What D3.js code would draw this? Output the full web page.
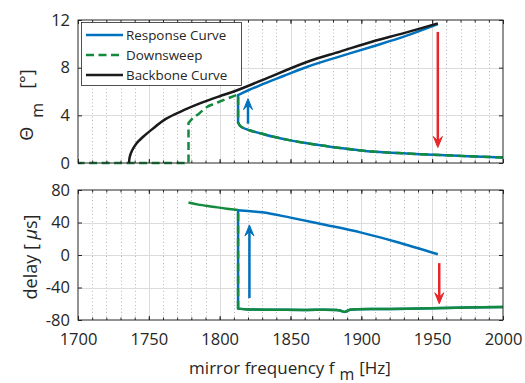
<!DOCTYPE html>
<html>
<head>
<meta charset="utf-8">
<script src="https://cdn.jsdelivr.net/npm/d3@7"></script>
<style>
  body { margin: 0; background: #fff; }
  svg { display: block; font-family: 'Open Sans', sans-serif; }
</style>
</head>
<body>
<main></main>
<script>
// amplitude Theta_m [deg] vs mirror frequency [Hz]
const respLowerTheta = [[1813, 3.4], [1815, 3.05], [1821, 2.75], [1830, 2.45], [1838, 2.2], [1850, 1.9], [1862, 1.65],
  [1875, 1.42], [1885, 1.25], [1900, 1.05], [1910, 0.94], [1932, 0.8], [1955, 0.67], [1975, 0.57], [2000, 0.47]];
const respUpperTheta = [[1813, 5.7], [1828, 6.5], [1845, 7.3], [1862, 8.08], [1885, 8.95], [1908, 9.78], [1930, 10.6], [1954, 11.65]];
const downUpperTheta = [[1813, 5.75], [1803, 5.3], [1797, 5.0], [1791, 4.7], [1786, 4.2], [1781, 3.75], [1778, 3.35]];
const downZeroTheta = [[1778, 0], [1700, 0]];
const backboneTheta = [[1736, 0], [1736.5, 0.5], [1738, 1.0], [1741, 1.6], [1746, 2.2], [1752, 2.8], [1762, 3.7], [1775, 4.45],
  [1786, 5.0], [1800, 5.6], [1810, 6.0], [1830, 6.95], [1862, 8.5], [1885, 9.35], [1908, 10.2], [1930, 10.9], [1954, 11.72]];

// delay [us] vs mirror frequency [Hz]
const respLowerDelay = [[1813, -66], [1820, -67], [1840, -67.3], [1860, -67.6], [1884, -68], [1888, -70], [1892, -67.5],
  [1920, -66.5], [1950, -65.5], [1975, -64.5], [2000, -64]];
const respUpperDelay = [[1813, 55], [1830, 52.5], [1850, 46], [1875, 37], [1900, 27.5], [1925, 16], [1954, 1]];
const downUpperDelay = [[1778, 64.5], [1785, 62], [1795, 59.5], [1805, 57], [1813, 55.5]];

// annotation arrows: frequency, from, to
const arrowsTheta = [{ f: 1820, from: 3.3, to: 5.4, color: '#0072bd' }, { f: 1954, from: 11.0, to: 1.3, color: '#e8262a' }];
const arrowsDelay = [{ f: 1821, from: -53, to: 37, color: '#0072bd' }, { f: 1955, from: -10, to: -60, color: '#e8262a' }];

const xTicks = [1700, 1750, 1800, 1850, 1900, 1950, 2000];
const thetaTicks = [0, 4, 8, 12];
const delayTicks = [-80, -40, 0, 40, 80];
const legendItems = [
  { label: 'Response Curve', color: '#0072bd', dash: null },
  { label: 'Downsweep', color: '#138a3d', dash: '8,4.5' },
  { label: 'Backbone Curve', color: '#1a1a1a', dash: null }
];

const width = 525;
const height = 383;
const blue = '#0072bd';
const green = '#138a3d';
const axisColor = '#262626';

const svg = d3.select('main')
  .append('svg')
  .attr('width', width)
  .attr('height', height)

const x = d3.scaleLinear().domain([1700, 2000]).range([78, 503]);
const yTop = d3.scaleLinear().domain([0, 12]).range([163, 20]);
const yBot = d3.scaleLinear().domain([-80, 80]).range([320, 190]);
const minorX = d3.range(1700, 2001, 10);

function panel(y, yTicks) {
  const g = svg.append('g');
  const [y0, y1] = y.range();

  // minor dotted grid
  g.append('g').selectAll('line')
    .data(minorX.filter(v => v % 50 !== 0))
    .enter().append('line')
    .attr('x1', d => Math.round(x(d)) + 0.5).attr('x2', d => Math.round(x(d)) + 0.5)
    .attr('y1', y0).attr('y2', y1)
    .style('stroke', '#b8b8b8')
    .style('stroke-width', 1)
    .style('stroke-dasharray', '1,2.5')

  // major grid
  g.append('g').selectAll('line')
    .data(xTicks.slice(1, -1))
    .enter().append('line')
    .attr('x1', d => Math.round(x(d)) + 0.5).attr('x2', d => Math.round(x(d)) + 0.5)
    .attr('y1', y0).attr('y2', y1)
    .style('stroke', '#dcdcdc')
  g.append('g').selectAll('line')
    .data(yTicks.slice(1, -1))
    .enter().append('line')
    .attr('x1', x.range()[0]).attr('x2', x.range()[1])
    .attr('y1', d => Math.round(y(d)) + 0.5).attr('y2', d => Math.round(y(d)) + 0.5)
    .style('stroke', '#dcdcdc')
  return g;
}

function frame(y, yTicks, showXLabels) {
  const g = svg.append('g');
  const [y0, y1] = y.range();
  const [xa, xb] = x.range();

  g.append('g').attr('transform', `translate(${xa},0)`)
    .call(d3.axisLeft(y).tickValues(yTicks).tickSize(-4).tickPadding(8).tickFormat(d => d < 0 ? '-' + Math.abs(d) : d));
  g.append('g').attr('transform', `translate(${xb},0)`)
    .call(d3.axisRight(y).tickValues(yTicks).tickSize(-4).tickFormat(''));
  const bottom = g.append('g').attr('transform', `translate(0,${y0})`)
    .call(d3.axisBottom(x).tickValues(xTicks).tickSize(-4).tickPadding(13).tickFormat(d3.format('d')));
  g.append('g').attr('transform', `translate(0,${y1})`)
    .call(d3.axisTop(x).tickValues(xTicks).tickSize(-4).tickFormat(''));
  g.append('g').attr('transform', `translate(0,${y0})`)
    .call(d3.axisBottom(x).tickValues(minorX).tickSize(-2.5).tickFormat(''));
  g.append('g').attr('transform', `translate(0,${y1})`)
    .call(d3.axisTop(x).tickValues(minorX).tickSize(-2.5).tickFormat(''));

  g.selectAll('.domain').remove();
  g.selectAll('.tick line').style('stroke', axisColor);
  g.selectAll('text')
    .style('font-family', "'Open Sans', sans-serif")
    .style('font-size', '16.5px')
    .style('fill', axisColor)
  if (!showXLabels) bottom.selectAll('text').remove();

  g.append('rect')
    .attr('x', xa).attr('y', y1)
    .attr('width', xb - xa).attr('height', y0 - y1)
    .style('fill', 'none')
    .style('stroke', axisColor)
    .style('stroke-width', 1)
}

// smooth branches joined by straight jumps into one continuous path
function joined(y, ...branches) {
  const smooth = d3.line().x(d => x(d[0])).y(d => y(d[1])).curve(d3.curveCatmullRom.alpha(0.5));
  return branches.map((b, i) => {
    const d = b.length > 2 ? smooth(b) : d3.line().x(p => x(p[0])).y(p => y(p[1]))(b);
    return i === 0 ? d : 'L' + d.slice(1);
  }).join('');
}

function drawArrows(y, arrows) {
  arrows.forEach(a => {
    const x0 = x(a.f);
    const ya = y(a.from);
    const yb = y(a.to);
    const dir = Math.sign(yb - ya);
    const headLen = 11;
    const headW = 4.5;
    svg.append('line')
      .attr('x1', x0).attr('x2', x0)
      .attr('y1', ya).attr('y2', yb - dir * headLen * 0.6)
      .style('stroke', a.color)
      .style('stroke-width', 2.5)
    svg.append('path')
      .attr('d', `M${x0},${yb} L${x0 - headW},${yb - dir * headLen} L${x0},${yb - dir * headLen * 0.6} L${x0 + headW},${yb - dir * headLen} Z`)
      .style('fill', a.color)
      .style('stroke', a.color)
      .style('stroke-width', 1)
      .style('stroke-linejoin', 'miter')
  });
}

const reversed = arr => arr.slice().reverse();

// Top panel
panel(yTop, thetaTicks);
const topG = svg.append('g');
topG.append('path')
  .attr('d', joined(yTop, reversed(respLowerTheta), respUpperTheta))
  .style('fill', 'none').style('stroke', blue).style('stroke-width', 2.5)
topG.append('path')
  .attr('d', joined(yTop, reversed(respLowerTheta), downUpperTheta, downZeroTheta))
  .style('fill', 'none').style('stroke', green).style('stroke-width', 2.5)
  .style('stroke-dasharray', '8,4.5')
topG.append('path')
  .attr('d', joined(yTop, backboneTheta))
  .style('fill', 'none').style('stroke', '#1a1a1a').style('stroke-width', 2.5)
drawArrows(yTop, arrowsTheta);
frame(yTop, thetaTicks, false);

// Bottom panel
panel(yBot, delayTicks);
const botG = svg.append('g');
botG.append('path')
  .attr('d', joined(yBot, reversed(respLowerDelay), respUpperDelay))
  .style('fill', 'none').style('stroke', blue).style('stroke-width', 2.5)
botG.append('path')
  .attr('d', joined(yBot, [respLowerDelay[0], downUpperDelay[downUpperDelay.length - 1]]))
  .style('fill', 'none').style('stroke', green).style('stroke-width', 2.5)
  .style('stroke-dasharray', '8,4.5')
botG.append('path')
  .attr('d', joined(yBot, respLowerDelay))
  .style('fill', 'none').style('stroke', green).style('stroke-width', 2.5)
botG.append('path')
  .attr('d', joined(yBot, downUpperDelay))
  .style('fill', 'none').style('stroke', green).style('stroke-width', 2.5)
drawArrows(yBot, arrowsDelay);
frame(yBot, delayTicks, true);

// Legend
const legend = svg.append('g').attr('id', 'legend');
legend.append('rect')
  .attr('x', 81.5).attr('y', 22.5)
  .attr('width', 160).attr('height', 63)
  .style('fill', '#fff')
  .style('stroke', axisColor)
  .style('stroke-width', 0.8)
const items = legend.selectAll('g.item')
  .data(legendItems)
  .enter().append('g')
  .attr('transform', (d, i) => `translate(0,${35 + i * 20})`)
items.append('line')
  .attr('x1', 86).attr('x2', 123)
  .style('stroke', d => d.color)
  .style('stroke-width', 2.5)
  .style('stroke-dasharray', d => d.dash)
items.append('text')
  .attr('x', 126).attr('y', 5)
  .text(d => d.label)
  .style('font-size', '13.4px')
  .style('fill', axisColor)

// Axis labels
const yl1 = svg.append('text')
  .attr('transform', 'translate(33,105) rotate(-90)')
  .attr('text-anchor', 'middle')
  .style('font-size', '18px')
  .style('fill', axisColor)
yl1.append('tspan').text('Θ');
yl1.append('tspan').attr('dx', 9).attr('dy', 10).style('font-size', '16px').text('m');
yl1.append('tspan').attr('dx', 14).attr('dy', -10).text('[°]');

svg.append('text')
  .attr('transform', 'translate(37,257) rotate(-90)')
  .attr('text-anchor', 'middle')
  .style('font-size', '18px')
  .style('fill', axisColor)
  .html('delay [ <tspan font-style="italic">μ</tspan>s]')

const xl = svg.append('text')
  .attr('x', 290).attr('y', 374)
  .attr('text-anchor', 'middle')
  .style('font-size', '17px')
  .style('fill', axisColor)
xl.append('tspan').text('mirror frequency f');
xl.append('tspan').attr('dx', 5).attr('dy', 6).style('font-size', '16px').text('m');
xl.append('tspan').attr('dx', 5).attr('dy', -6).text('[Hz]');
</script>
</body>
</html>
